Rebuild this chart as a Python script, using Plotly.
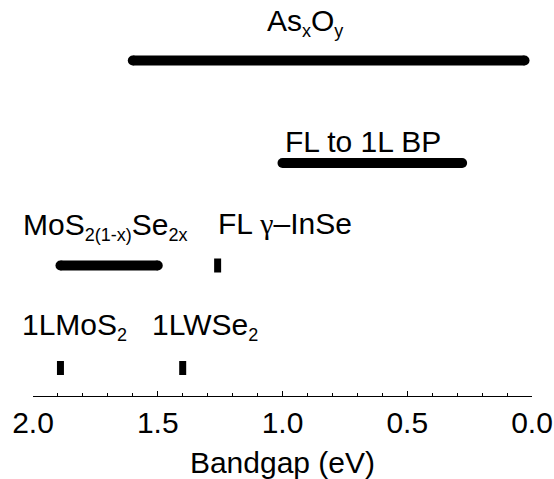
import plotly.graph_objects as go

# ---- Data ----
range_labels = ["As<sub>x</sub>O<sub>y</sub>", "FL to 1L BP", "MoS<sub>2(1-x)</sub>Se<sub>2x</sub>"]
range_start = [1.60, 1.00, 1.89]
range_end = [0.03, 0.28, 1.50]
range_row = [4, 3, 2]

point_labels = ["FL <span style='font-family:Liberation Serif'>γ</span>–InSe", "1LMoS<sub>2</sub>", "1LWSe<sub>2</sub>"]
point_value = [1.26, 1.89, 1.40]
point_row = [2, 1, 1]

tick_vals = [2.0, 1.5, 1.0, 0.5, 0.0]
tick_text = ["2.0", "1.5", "1.0", "0.5", "0.0"]

FONT = "Liberation Sans, Arial, sans-serif"
FS = 30
SUBFS = 18


def sub_small(t):
    return t.replace("<sub>", "<sub><span style='font-size:%dpx'>" % SUBFS).replace("</sub>", "</span></sub>")


fig = go.Figure()

for s, e, r in zip(range_start, range_end, range_row):
    fig.add_trace(go.Scatter(x=[s, e], y=[r, r], mode="lines+markers",
                             line=dict(color="black", width=10),
                             marker=dict(color="black", size=10, symbol="circle"),
                             showlegend=False, hoverinfo="skip"))

fig.add_trace(go.Scatter(x=point_value, y=point_row, mode="markers",
                         marker=dict(color="black", size=10, symbol="line-ns-open",
                                     line=dict(color="black", width=7)),
                         showlegend=False, hoverinfo="skip"))

annots = [
    dict(x=1.062, y=range_row[0], text=sub_small(range_labels[0]), xshift=-2, yshift=17),
    dict(x=0.99, y=range_row[1], text=sub_small(range_labels[1]), xshift=-2, yshift=3),
    dict(x=2.0, y=range_row[2], text=sub_small(range_labels[2]), xshift=-12, yshift=19),
    dict(x=1.26, y=point_row[0], text=sub_small(point_labels[0]), xshift=-2, yshift=24),
    dict(x=2.0, y=point_row[1], text=sub_small(point_labels[1]), xshift=-13, yshift=21),
    dict(x=1.523, y=point_row[2], text=sub_small(point_labels[2]), xshift=-2, yshift=21),
]
for a in annots:
    a.update(xref="x", yref="y", showarrow=False, xanchor="left", yanchor="bottom",
             font=dict(size=FS, color="black", family=FONT))
fig.update_layout(annotations=annots)

fig.update_layout(
    width=554, height=479,
    margin=dict(l=33, r=22, t=0, b=83),
    paper_bgcolor="white", plot_bgcolor="white",
    font=dict(family=FONT, size=FS, color="black"),
    xaxis=dict(range=[2.0, 0.0], tickvals=tick_vals, ticktext=tick_text,
               showline=True, linecolor="black", linewidth=1,
               ticks="inside", ticklen=5, tickwidth=1, tickcolor="black",
               minor=dict(ticks="inside", ticklen=3, tickwidth=1, tickcolor="black", dtick=0.1),
               showgrid=False, zeroline=False,
               tickfont=dict(size=FS, family=FONT, color="black"),
               title=dict(text="Bandgap (eV)", font=dict(size=FS, family=FONT, color="black"), standoff=14)),
    yaxis=dict(range=[0.727, 4.590], visible=False, showgrid=False, zeroline=False),
)

fig.write_html("out.html")
